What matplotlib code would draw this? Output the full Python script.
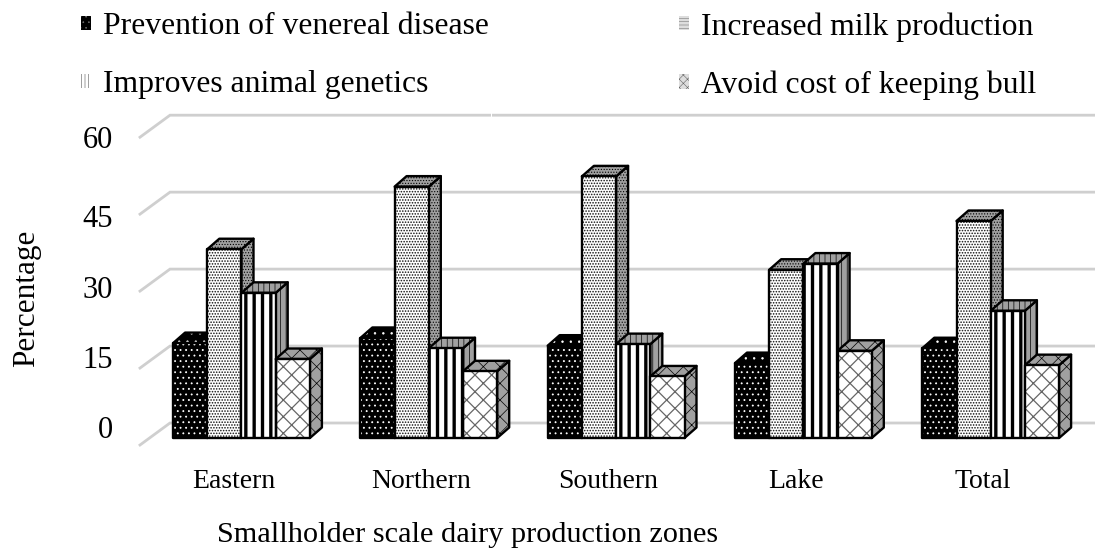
import matplotlib

matplotlib.use('Agg')
import matplotlib.pyplot as plt
from matplotlib.patches import Polygon, Patch

plt.rcParams['font.family'] = ['Liberation Serif', 'DejaVu Serif']

zones = ['Eastern', 'Northern', 'Southern', 'Lake', 'Total']
prevention = [18.5, 19.5, 18.0, 14.6, 17.5]
milk = [36.8, 49.0, 51.0, 32.8, 42.3]
genetics = [28.3, 17.5, 18.3, 34.0, 24.8]
cost = [15.4, 13.0, 12.0, 17.0, 14.2]
yticks = [0, 15, 30, 45, 60]
ytick_pixels = [430, 360, 291, 220, 141]

# pixel scale of the picture
PX_X = 187.3
PX_Y = 5.13
X0 = 241.5
Y0 = 438
BAR = 34.2 / PX_X
DX = 12 / PX_X
DY = 10.5 / PX_Y


def to_x(px):
    return (px - X0) / PX_X


def to_y(py):
    return (Y0 - py) / PX_Y


styles = [
    dict(front='black', hatch_col='white', hatch='...', lw=0.6, side='black', top='black'),
    dict(front='white', hatch_col='#111111', hatch='......', lw=0.75, side='#a0a0a0', top='#a0a0a0'),
    dict(front='white', hatch_col='black', hatch='||', lw=2.4, side='#a0a0a0', top='#a0a0a0'),
    dict(front='white', hatch_col='#666666', hatch='xx', lw=0.9, side='#a0a0a0', top='#a0a0a0'),
]
side_hatch = ['..', '......', '|||', 'xx']


def face(ax, pts, fc, hc, hatch, lw, z):
    plt.rcParams['hatch.linewidth'] = lw
    ax.add_patch(Polygon(pts, closed=True, facecolor=fc, edgecolor=hc, hatch=hatch, lw=0, zorder=z))
    ax.add_patch(Polygon(pts, closed=True, fill=False, edgecolor='black', lw=1.7, joinstyle='round', zorder=z + 0.1))


def bar3d(ax, x, v, st, side, z):
    x2 = x + BAR
    side_hc = 'black' if st['side'] != 'black' else 'white'
    face(ax, [(x2, 0), (x2 + DX, DY), (x2 + DX, v + DY), (x2, v)], st['side'], side_hc, side, 0.5, z)
    face(ax, [(x, v), (x + DX, v + DY), (x2 + DX, v + DY), (x2, v)], st['top'], side_hc, side, 0.5, z + 0.2)
    face(ax, [(x, 0), (x2, 0), (x2, v), (x, v)], st['front'], st['hatch_col'], st['hatch'], st['lw'], z + 0.4)


fig = plt.figure(figsize=(10.95, 5.51), dpi=100)
ax = fig.add_axes([0, 0, 1, 1])
ax.set_xlim(to_x(0), to_x(1095))
ax.set_ylim(to_y(551), to_y(0))
ax.axis('off')

# back wall grid lines with the slanted ends on the left
back_y = 15 / PX_Y
for t in yticks:
    ax.plot([to_x(140), to_x(170), to_x(1095)], [t - 7 / PX_Y, t + back_y, t + back_y],
            color='#cfcfcf', lw=2, solid_joinstyle='miter', zorder=1)
# small gap in the top line
ax.plot([to_x(491), to_x(492)], [60 + back_y, 60 + back_y], color='white', lw=3, zorder=1.5,
        solid_capstyle='butt')

series = [prevention, milk, genetics, cost]
for i in range(len(zones)):
    for j, vals in enumerate(series):
        x = i - 2 * BAR + j * BAR
        bar3d(ax, x, vals[i], styles[j], side_hatch[j], 2 + i + j * 0.1)

for t, py in zip(yticks, ytick_pixels):
    ax.text(to_x(113), to_y(py), str(t), fontsize=22, ha='right', va='center', zorder=20)

for i, z in enumerate(zones):
    ax.text(i - 7.5 / PX_X, to_y(482), z, fontsize=20, ha='center', va='center', zorder=20)

ax.text(to_x(468), to_y(535), 'Smallholder scale dairy production zones', fontsize=21.8, ha='center', va='center')
ax.text(to_x(27), to_y(298), 'Percentage', fontsize=22.5, rotation=90, ha='center', va='center')

plt.rcParams['hatch.linewidth'] = 0.4
handles = [
    Patch(facecolor='black', edgecolor='#777777', lw=0, hatch='...'),
    Patch(facecolor='white', edgecolor='#555555', lw=0, hatch='|||||'),
    Patch(facecolor='#dddddd', edgecolor='#777777', lw=0, hatch='-----'),
    Patch(facecolor='#dddddd', edgecolor='#666666', lw=0, hatch='xxxx'),
]
labels = ['Prevention of venereal disease', 'Improves animal genetics',
          'Increased milk production', 'Avoid cost of keeping bull']
ax.legend(handles, labels, ncol=2, frameon=False, fontsize=22.8, loc='upper left',
          bbox_to_anchor=(81 / 1095, 1 - 12 / 551), bbox_transform=fig.transFigure,
          handlelength=0.32, handleheight=0.32, handletextpad=0.38, columnspacing=6.0,
          labelspacing=0.91, borderpad=0, borderaxespad=0)

fig.savefig('out.png', dpi=100)
